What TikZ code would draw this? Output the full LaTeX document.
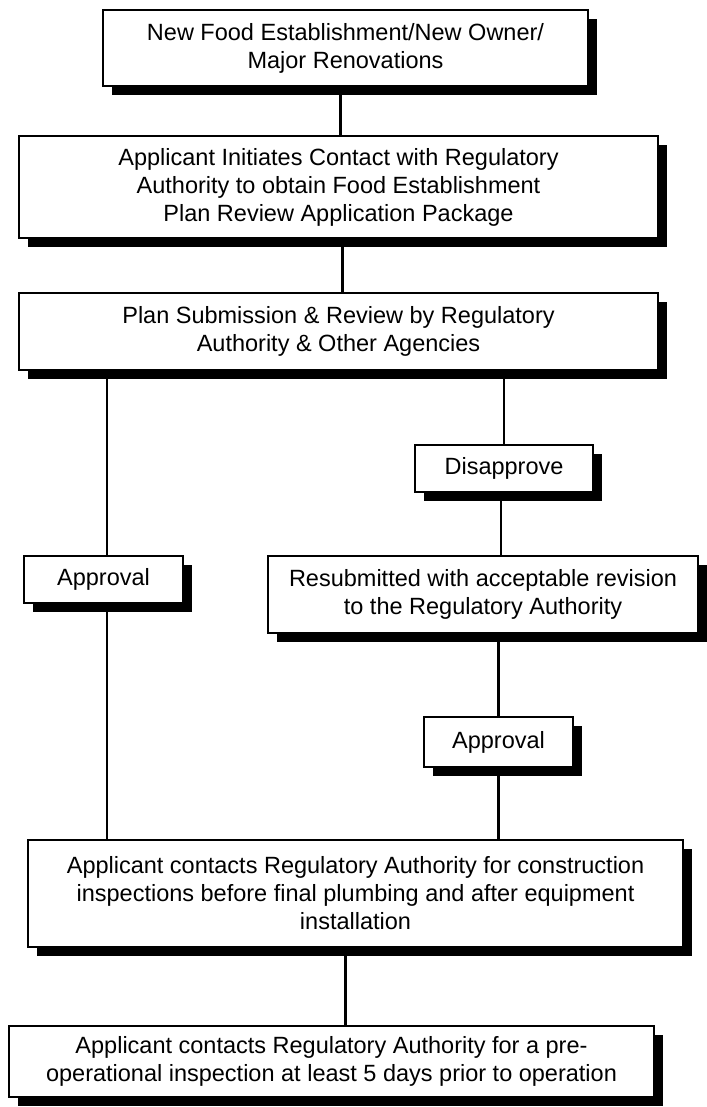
\documentclass[tikz,border=0pt]{standalone}
\usepackage{fontspec}
\setmainfont{Liberation Sans}
\usetikzlibrary{shadows,calc}
\begin{document}
\begin{tikzpicture}[x=1pt,y=-1pt,
  box/.style={draw=black, line width=1.6pt, fill=white, align=center, inner sep=0pt,
    font=\fontsize{23.5}{28}\selectfont,
    drop shadow={shadow xshift=9pt, shadow yshift=-9pt, fill=black, opacity=1}},
  link/.style={line width=2.8pt}]
\useasboundingbox[fill=white] (0,0) rectangle (706,1107);
\node[box, minimum width=485pt, minimum height=76pt] (b1) at (345.5,48)
  {New Food Establishment/New Owner/\\Major Renovations};
\node[box, minimum width=639pt, minimum height=102pt] (b2) at (338.5,187)
  {Applicant Initiates Contact with Regulatory\\Authority to obtain Food Establishment\\Plan Review Application Package};
\node[box, minimum width=639pt, minimum height=77pt] (b3) at (338.5,331.5)
  {Plan Submission \& Review by Regulatory\\Authority \& Other Agencies};
\node[box, minimum width=159pt, minimum height=47pt] (ap1) at (103.5,579.5) {Approval};
\node[box, minimum width=178pt, minimum height=47pt] (dis) at (504,468.5) {Disapprove};
\node[box, minimum width=430pt, minimum height=77pt] (res) at (483,594.5)
  {Resubmitted with acceptable revision\\to the Regulatory Authority};
\node[box, minimum width=149pt, minimum height=50pt] (ap2) at (498.5,742) {Approval};
\node[box, minimum width=655pt, minimum height=107pt] (b5) at (355.5,893.5)
  {Applicant contacts Regulatory Authority for construction\\inspections before final plumbing and after equipment\\installation};
\node[box, minimum width=645pt, minimum height=71pt] (b6) at (331.5,1061.5)
  {Applicant contacts Regulatory Authority for a pre-\\operational inspection at least 5 days prior to operation};

\draw[link] ([xshift=-5pt]b1.south) -- ([xshift=-5pt]b1.south |- b2.north);
\draw[link] ([xshift=4pt]b2.south) -- ([xshift=4pt]b2.south |- b3.north);
\draw[link] ([xshift=3.5pt]ap1.north |- b3.south) -- ([xshift=3.5pt]ap1.north);
\draw[link] (dis.north |- b3.south) -- (dis.north);
\draw[link] ([xshift=-3pt]dis.south) -- ([xshift=-3pt]dis.south |- res.north);
\draw[link] (ap2.north |- res.south) -- (ap2.north);
\draw[link] ([xshift=3.5pt]ap1.south) -- ([xshift=3.5pt]ap1.south |- b5.north);
\draw[link] (ap2.south) -- (ap2.south |- b5.north);
\draw[link] ([xshift=-10pt]b5.south) -- ([xshift=-10pt]b5.south |- b6.north);
\end{tikzpicture}
\end{document}
